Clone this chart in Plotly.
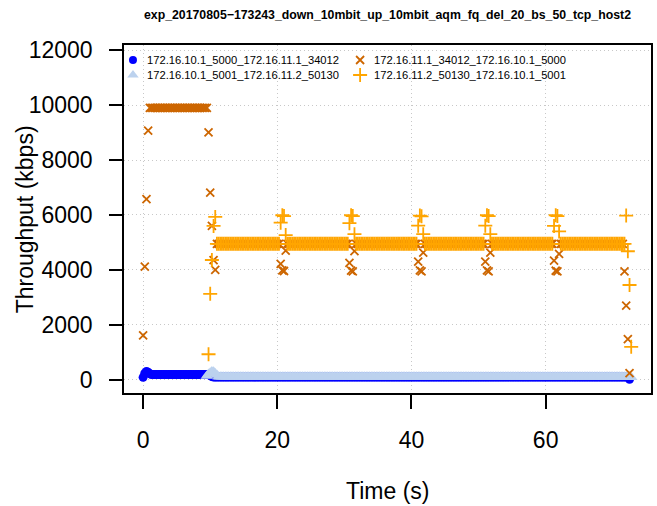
import plotly.graph_objects as go

INTERVAL = 0.25  # seconds between throughput samples

FLOW_NAMES = [
    "172.16.10.1_5000_172.16.11.1_34012",
    "172.16.11.1_34012_172.16.10.1_5000",
    "172.16.10.1_5001_172.16.11.2_50130",
    "172.16.11.2_50130_172.16.10.1_5001",
]
FLOW_COLORS = ["#0000FF", "#CD6600", "#BCD2EE", "#FFA500"]

# steady stretches: (first sample time, last sample time, kbps)
ack1_runs = [(1.25, 9.75, 190), (10.5, 72.25, 100)]
data1_runs = [(1.0, 9.5, 9900), (11.0, 20.25, 4950), (21.5, 30.5, 4950),
              (31.75, 40.75, 4950), (42.0, 50.75, 4950), (52.0, 61.0, 4950),
              (62.25, 71.5, 4950)]
ack2_runs = [(11.25, 72.5, 110)]
data2_runs = [(11.0, 20.25, 4950), (21.5, 30.5, 4950), (31.75, 40.75, 4950),
              (42.0, 50.75, 4950), (52.0, 61.0, 4950), (62.25, 71.75, 4950)]

# individual samples outside the steady stretches: {time: kbps}
ack1_samples = {0.0: 90, 0.25: 240, 0.5: 300, 0.75: 270, 1.0: 220,
                10.0: 150, 10.25: 120, 72.5: 20}
data1_samples = {0.0: 1620, 0.25: 4120, 0.5: 6580, 0.75: 9070,
                 9.75: 9010, 10.0: 6810, 10.25: 5600, 10.5: 4360, 10.75: 4000,
                 71.75: 3950, 72.0: 2700, 72.25: 1480, 72.5: 240}
ack2_samples = {9.5: 140, 9.75: 210, 10.0: 260, 10.25: 300, 10.5: 290,
                10.75: 230, 11.0: 170, 72.75: 90}
data2_samples = {9.75: 930, 10.0: 3130, 10.25: 4360, 10.5: 5600, 10.75: 5930,
                 72.0: 5980, 72.25: 4680, 72.5: 3450, 72.75: 1200}

# periodic disturbances: start time and the four samples of each flow
event_starts = [20.5, 30.75, 41.0, 51.0, 61.25]
data1_event_kbps = [[4220, 3980, 3960, 4700], [4260, 3975, 3950, 4680],
                    [4300, 3980, 3950, 4630], [4300, 3985, 3950, 4630],
                    [4340, 3970, 3950, 4580]]
data2_event_kbps = [[5720, 5990, 5960, 5270], [5700, 5990, 5960, 5300],
                    [5610, 5980, 5950, 5300], [5610, 5990, 5960, 5300],
                    [5600, 5990, 5960, 5400]]

X_TICKS = [0, 20, 40, 60]
Y_TICKS = [0, 2000, 4000, 6000, 8000, 10000, 12000]

TITLE = "exp_20170805\u2212173243_down_10mbit_up_10mbit_aqm_fq_del_20_bs_50_tcp_host2"

# figure geometry (pixels)
W, H = 657, 506
ML, MR, MT, MB = 124, 4, 45, 113
PW, PH = W - ML - MR, H - MT - MB


def build_series(runs, samples, events=None):
    pts = {}
    for t0, t1, v in runs:
        n = round((t1 - t0) / INTERVAL)
        for k in range(n + 1):
            pts[round(t0 + k * INTERVAL, 2)] = v
    for t, v in samples.items():
        pts[round(t, 2)] = v
    if events:
        for start, vals in zip(event_starts, events):
            for k, v in enumerate(vals):
                pts[round(start + k * INTERVAL, 2)] = v
    ts = sorted(pts)
    return ts, [pts[t] for t in ts]


series = [
    build_series(ack1_runs, ack1_samples),
    build_series(data1_runs, data1_samples, data1_event_kbps),
    build_series(ack2_runs, ack2_samples),
    build_series(data2_runs, data2_samples, data2_event_kbps),
]

markers = [
    dict(symbol="circle", size=9, color=FLOW_COLORS[0], line=dict(width=0)),
    dict(symbol="x-thin", size=8, color=FLOW_COLORS[1],
         line=dict(width=1.8, color=FLOW_COLORS[1])),
    dict(symbol="triangle-up", size=11, color=FLOW_COLORS[2], line=dict(width=0)),
    dict(symbol="cross-thin", size=10, color=FLOW_COLORS[3],
         line=dict(width=1.8, color=FLOW_COLORS[3])),
]

# drawing order: acks of flow 1, acks of flow 2, data of flow 1, data of flow 2
draw_order = [0, 2, 1, 3]

fig = go.Figure()
for i in draw_order:
    ts, vs = series[i]
    fig.add_trace(go.Scatter(
        x=ts, y=vs, mode="markers", name=FLOW_NAMES[i],
        marker=markers[i], hoverinfo="skip", showlegend=False,
    ))

# legend: two columns, column-major (flows 0,2 left; 1,3 right)
legend_cols_px = [133, 361]
legend_rows_px = [60, 75]
legend_slots = {0: (0, 0), 2: (0, 1), 1: (1, 0), 3: (1, 1)}
legend_marker_sizes = {0: 8, 1: 8, 2: 10, 3: 10}


def px_to_paper(x_px, y_px):
    return (x_px - ML) / PW, (H - MB - y_px) / PH


annotations = []
for i, (c, r) in legend_slots.items():
    lx, ly = px_to_paper(legend_cols_px[c], legend_rows_px[r])
    m = dict(markers[i])
    m["size"] = legend_marker_sizes[i]
    fig.add_trace(go.Scatter(
        x=[lx], y=[ly], mode="markers", marker=m, xaxis="x2", yaxis="y2",
        hoverinfo="skip", showlegend=False,
    ))
    tx, _ = px_to_paper(legend_cols_px[c] + 12, 0)
    annotations.append(dict(
        text=FLOW_NAMES[i], xref="paper", yref="paper", x=tx, y=ly,
        xanchor="left", yanchor="middle", showarrow=False,
        font=dict(family="Liberation Sans, Arial, sans-serif", size=11.2,
                  color="black"),
    ))

lx0, ly0 = px_to_paper(ML, MT)
lx1, ly1 = px_to_paper(586, 88)

FONT = "Liberation Sans, Arial, Helvetica, sans-serif"
axis_common = dict(
    showline=True, mirror=True, linecolor="black", linewidth=1.6,
    ticks="outside", tickcolor="black", tickwidth=1.5,
    showgrid=True, gridcolor="#C8C8C8", gridwidth=1, griddash="1px,3px",
    zeroline=False, tickfont=dict(family=FONT, size=23, color="black"),
)

annotations += [
    dict(text="Time (s)", xref="paper", yref="paper", x=0.5, y=-98 / PH,
         xanchor="center", yanchor="middle", showarrow=False,
         font=dict(family=FONT, size=23, color="black")),
    dict(text="Throughput (kbps)", xref="paper", yref="paper",
         x=-99 / PW, y=0.5, textangle=-90, xanchor="center",
         yanchor="middle", showarrow=False,
         font=dict(family=FONT, size=23, color="black")),
]

fig.update_layout(
    width=W, height=H,
    margin=dict(l=ML, r=MR, t=MT, b=MB),
    paper_bgcolor="white", plot_bgcolor="white",
    font=dict(family=FONT, color="black"),
    showlegend=False,
    title=dict(text=TITLE, x=0.5, xref="paper", xanchor="center",
               y=1 - 15 / H, yref="container", yanchor="middle",
               font=dict(family=FONT, size=12.3, weight="bold", color="black")),
    xaxis=dict(range=[-2.85, 75.7], tickvals=X_TICKS,
               ticktext=[str(v) for v in X_TICKS], ticklen=14,
               ticklabelstandoff=12, **axis_common),
    yaxis=dict(range=[-481, 12188], tickvals=Y_TICKS,
               ticktext=[str(v) for v in Y_TICKS], ticklen=13,
               ticklabelstandoff=12, **axis_common),
    xaxis2=dict(range=[0, 1], overlaying="x", visible=False, fixedrange=True),
    yaxis2=dict(range=[0, 1], overlaying="y", visible=False, fixedrange=True),
    shapes=[dict(type="rect", xref="paper", yref="paper",
                 x0=lx0, y0=ly1, x1=lx1, y1=ly0, layer="between",
                 fillcolor="white", line=dict(width=0))],
    annotations=annotations,
)

fig.write_html("out.html")
